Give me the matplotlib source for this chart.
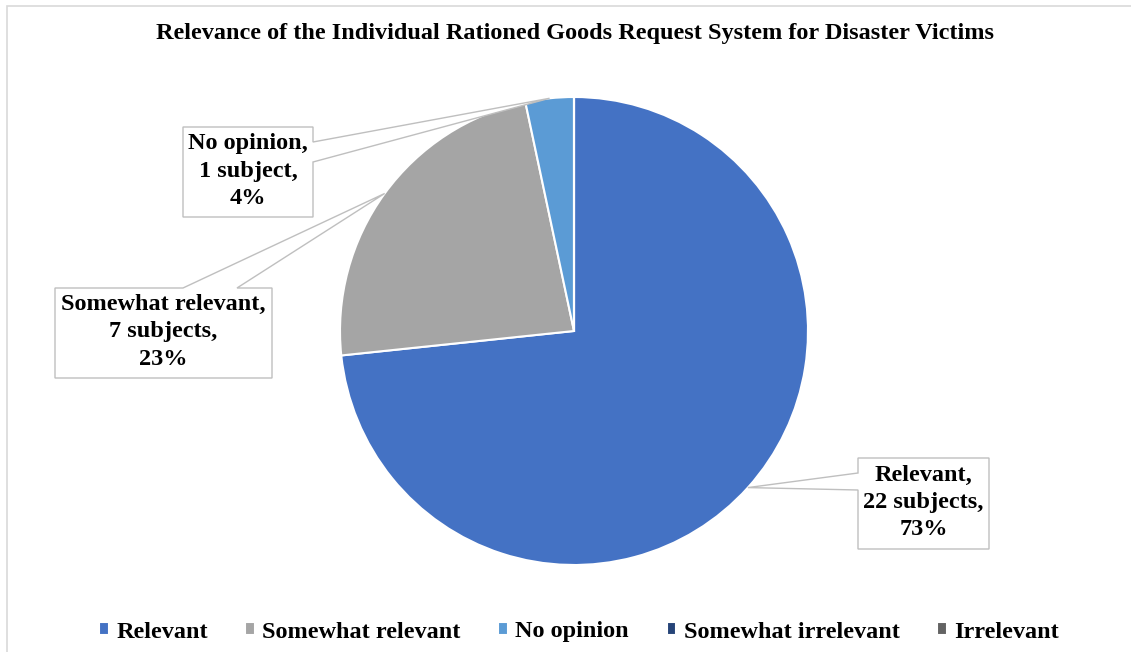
import matplotlib
matplotlib.use("Agg")
import matplotlib.pyplot as plt
from matplotlib.patches import Polygon, Rectangle
import numpy as np

W, H = 1131, 652

categories = ["Relevant", "Somewhat relevant", "No opinion", "Somewhat irrelevant", "Irrelevant"]
subjects = [22, 7, 1, 0, 0]
percents = ["73%", "23%", "4%", "0%", "0%"]
colors = ["#4472C4", "#A5A5A5", "#5B9BD5", "#264478", "#636363"]

# callout boxes in image pixels: (left, top, right, bottom, side, base1, base2)
callouts = {
    0: (858, 458, 989, 549, "left", 473, 490),
    1: (55, 288, 272, 378, "top", 183, 237),
    2: (183, 127, 313, 217, "right", 142, 162),
}

plt.rcParams["font.family"] = ["Liberation Serif", "DejaVu Serif"]
plt.rcParams["font.weight"] = "bold"

fig = plt.figure(figsize=(W / 100, H / 100), dpi=100)
ax = fig.add_axes([0, 0, 1, 1])

def py(y):
    return H - y

cx, cy, r = 574, py(331), 234
wedges, _ = ax.pie(subjects, colors=colors, startangle=90, counterclock=False,
                   center=(cx, cy), radius=r,
                   wedgeprops=dict(edgecolor="white", linewidth=1.5))
for w in wedges:
    w.set_zorder(3)

ax.set_xlim(0, W)
ax.set_ylim(0, H)
ax.set_aspect("equal")
ax.axis("off")

# outer chart frame
ax.add_patch(Rectangle((7, -10), W, py(6) + 10, fill=False, edgecolor="#D9D9D9", lw=1.2))

line_col = "#BFBFBF"
for i, (l, t, rr, b, side, b1, b2) in callouts.items():
    w = wedges[i]
    mid = np.deg2rad((w.theta1 + w.theta2) / 2)
    tip = (cx + r * np.cos(mid), cy + r * np.sin(mid))
    L, R, T, B = l, rr, py(t), py(b)
    if side == "left":
        pts = [(L, T), (R, T), (R, B), (L, B), (L, py(b2)), tip, (L, py(b1))]
    elif side == "right":
        pts = [(L, T), (R, T), (R, py(b1)), tip, (R, py(b2)), (R, B), (L, B)]
    else:
        pts = [(L, T), (b1, T), tip, (b2, T), (R, T), (R, B), (L, B)]
    ax.add_patch(Polygon(pts, closed=True, facecolor="white", edgecolor=line_col,
                         lw=1.0, zorder=4))
    unit = "subject" if subjects[i] == 1 else "subjects"
    label = f"{categories[i]},\n{subjects[i]} {unit},\n{percents[i]}"
    ax.text((L + R) / 2, (T + B) / 2 + 1, label, ha="center", va="center",
            fontsize=17.5, fontweight="bold", linespacing=1.38, zorder=5)

fig.text(575 / W, 1 - 34 / H, "Relevance of the Individual Rationed Goods Request System for Disaster Victims",
         ha="center", va="center", fontsize=17.5, fontweight="bold")

fig.legend(wedges, categories, loc="center", bbox_to_anchor=(0.512, 1 - 632 / H),
           ncol=5, frameon=False, handlelength=0.4, handleheight=0.45,
           handletextpad=0.3, columnspacing=1.55,
           prop=dict(family="Liberation Serif", weight="bold", size=17.5))

fig.savefig("out.png", dpi=100)
